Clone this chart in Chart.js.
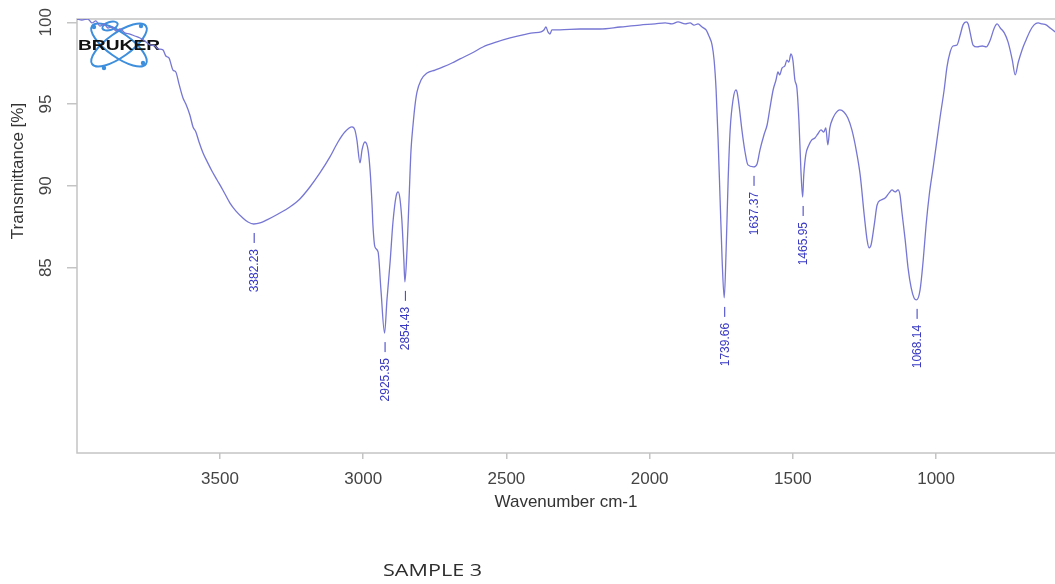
<!DOCTYPE html>
<html lang="en">
<head>
<meta charset="UTF-8">
<title>FTIR spectrum - SAMPLE 3</title>
<script src="https://cdn.jsdelivr.net/npm/chart.js@4.4.0/dist/chart.umd.min.js"></script>
<style>
  html, body { margin: 0; padding: 0; background: #fff; overflow: hidden; }
  .chartbox { position: relative; width: 1055px; height: 584px; }
  #sample { position: absolute; left: 383px; top: 558px; font: 17px "Open Sans", sans-serif; color: #2e2e2e;
            transform: scaleX(1.27); transform-origin: left top; white-space: nowrap; }
</style>
</head>
<body>
<div class="chartbox">
  <canvas id="irChart" width="1055" height="584"></canvas>
  <div id="sample">SAMPLE 3</div>
</div>
<script>
// wavenumber (cm-1), high to low
const wavenumbers = [
  3999, 3982, 3961, 3947, 3933, 3919, 3905, 3891, 3877, 3863,
  3849, 3832, 3814, 3797, 3779, 3762, 3744, 3727, 3716, 3699,
  3689, 3678, 3664, 3654, 3643, 3629, 3619, 3605, 3594, 3584,
  3573, 3559, 3542, 3528, 3510, 3490, 3465, 3444, 3420, 3402,
  3382.23, 3360, 3336, 3297, 3256, 3221, 3186, 3151, 3116, 3088,
  3064, 3039, 3029, 3022, 3011, 3004, 2994, 2983, 2976, 2969,
  2966, 2959, 2948, 2938, 2925.35, 2917, 2906, 2896, 2885, 2878,
  2872, 2865, 2858, 2854.43, 2847, 2840, 2833, 2826, 2819, 2812,
  2798, 2777, 2749, 2721, 2690, 2662, 2620, 2582, 2533, 2487,
  2446, 2407, 2379, 2369, 2362, 2355, 2348, 2341, 2313, 2243,
  2173, 2103, 2034, 1981, 1946, 1922, 1901, 1876, 1859, 1845,
  1831, 1817, 1803, 1793, 1782, 1775, 1768, 1761, 1754, 1747,
  1739.66, 1733, 1726, 1719, 1709, 1699, 1695, 1688, 1678, 1667,
  1657, 1637.37, 1625, 1615, 1601, 1590, 1580, 1569, 1559, 1552,
  1546, 1538, 1528, 1521, 1514, 1507, 1500, 1493, 1486, 1479,
  1472, 1465.95, 1462, 1455, 1444, 1434, 1423, 1413, 1402, 1392,
  1385, 1378, 1371, 1360, 1347, 1336, 1322, 1308, 1294, 1279,
  1265, 1251, 1241, 1234, 1227, 1216, 1206, 1192, 1178, 1164,
  1154, 1143, 1133, 1126, 1119, 1108, 1098, 1087, 1077, 1068.14,
  1056, 1045, 1035, 1024, 1010, 997, 986, 972, 962, 951,
  941, 927, 916, 906, 895, 888, 881, 871, 857, 839,
  825, 811, 797, 787, 776, 762, 749, 734, 724, 713,
  700, 686, 672, 658, 644, 630, 616, 602, 585
];
// transmittance in %
const transmittance = [
  100.2, 100.14, 100.2, 99.96, 100.08, 99.77, 99.9, 99.65, 99.71, 99.47,
  99.59, 99.35, 99.28, 99.16, 99.04, 98.86, 98.61, 98.55, 98.37, 98.31,
  97.94, 97.82, 97.08, 96.96, 96.23, 95.37, 95.0, 94.33, 93.6, 93.29,
  92.68, 92.01, 91.39, 90.91, 90.36, 89.75, 88.95, 88.46, 88.04, 87.79,
  87.67, 87.73, 87.92, 88.28, 88.71, 89.2, 89.93, 90.79, 91.77, 92.68,
  93.29, 93.6, 93.42, 92.81, 91.4, 92.2, 92.68, 92.2, 90.97, 88.83,
  87.61, 86.27, 85.96, 83.64, 81.0, 83.03, 85.35, 87.79, 89.38, 89.63,
  89.26, 87.92, 85.47, 84.13, 86.09, 89.14, 92.2, 93.72, 94.94, 95.74,
  96.47, 96.9, 97.08, 97.27, 97.51, 97.76, 98.12, 98.49, 98.8, 99.04,
  99.22, 99.35, 99.41, 99.53, 99.71, 99.41, 99.28, 99.53, 99.53, 99.59,
  99.59, 99.71, 99.83, 99.9, 99.96, 99.9, 100.02, 99.9, 99.96, 99.83,
  99.9, 99.71, 99.53, 99.16, 98.61, 97.69, 95.86, 92.81, 89.14, 85.47,
  83.15, 86.09, 90.36, 93.42, 95.25, 95.86, 95.74, 94.94, 93.42, 92.07,
  91.28, 91.16, 91.34, 92.19, 93.11, 93.72, 94.76, 95.86, 96.47, 96.96,
  96.78, 97.2, 97.33, 97.69, 97.57, 98.06, 97.69, 96.47, 95.98, 94.03,
  90.97, 89.32, 90.66, 91.89, 92.5, 92.81, 92.93, 93.17, 93.42, 93.29,
  93.54, 92.5, 93.54, 94.15, 94.52, 94.64, 94.52, 94.15, 93.42, 92.19,
  90.66, 88.22, 86.7, 86.21, 86.39, 87.61, 88.83, 89.14, 89.26, 89.57,
  89.75, 89.63, 89.75, 89.44, 88.34, 86.7, 84.99, 83.76, 83.15, 83.03,
  83.64, 85.47, 87.61, 89.44, 91.16, 92.81, 94.21, 95.86, 97.27, 98.18,
  98.55, 98.61, 99.22, 99.84, 100.02, 99.9, 99.35, 98.61, 98.49, 98.55,
  98.49, 98.92, 99.65, 99.9, 99.65, 99.35, 98.8, 97.69, 96.78, 97.57,
  98.31, 98.92, 99.47, 99.84, 99.96, 99.9, 99.84, 99.65, 99.41
];
// picked peaks (labelled under the curve)
const peakWn = [3382.23, 2925.35, 2854.43, 1739.66, 1637.37, 1465.95, 1068.14];
const xTicks = [3500, 3000, 2500, 2000, 1500, 1000];
const yTicks = [85, 90, 95, 100];

const axisFont = { family: '"Liberation Sans", Arial, sans-serif', size: 17 };
const axisColor = '#c4c4c4';
const textColor = '#444';
const peakColor = '#3838c4';

const points = wavenumbers.map((w, i) => ({ x: w, y: transmittance[i] }));

function drawLogo(ctx) {
  ctx.save();
  ctx.strokeStyle = '#3d8edc';
  ctx.fillStyle = '#3d8edc';
  ctx.lineWidth = 2;
  [0.62, -0.62].forEach(a => {
    ctx.beginPath();
    ctx.ellipse(119, 45, 33, 12, a, 0, Math.PI * 2);
    ctx.stroke();
  });
  ctx.beginPath();
  ctx.ellipse(110, 26, 8, 4, -0.3, 0, Math.PI * 2);
  ctx.stroke();
  [[94, 27], [143, 63], [104, 68], [141, 26]].forEach(p => {
    ctx.beginPath();
    ctx.arc(p[0], p[1], 2.2, 0, Math.PI * 2);
    ctx.fill();
  });
  ctx.fillStyle = '#111';
  ctx.font = 'bold 14px "Liberation Sans", Arial, sans-serif';
  ctx.textAlign = 'center';
  ctx.textBaseline = 'middle';
  ctx.translate(119, 46);
  ctx.scale(1.37, 1);
  ctx.fillText('BRUKER', 0, 0);
  ctx.restore();
}

const decor = {
  id: 'decor',
  beforeDatasetsDraw(chart) {
    const { ctx, chartArea: a } = chart;
    ctx.save();
    ctx.strokeStyle = axisColor;
    ctx.lineWidth = 1.5;
    ctx.strokeRect(a.left, a.top, a.right - a.left + 2, a.bottom - a.top);
    ctx.restore();
    drawLogo(ctx);
  },
  afterDraw(chart) {
    const { ctx, scales: { x, y } } = chart;
    ctx.save();
    // y tick labels, rotated like the axis title
    ctx.fillStyle = textColor;
    ctx.font = '17px "Liberation Sans", Arial, sans-serif';
    ctx.textAlign = 'center';
    ctx.textBaseline = 'middle';
    yTicks.forEach(v => {
      ctx.save();
      ctx.translate(46, y.getPixelForValue(v));
      ctx.rotate(-Math.PI / 2);
      ctx.fillText(String(v), 0, 0);
      ctx.restore();
    });
    ctx.save();
    ctx.fillStyle = '#333';
    ctx.translate(18, 171);
    ctx.rotate(-Math.PI / 2);
    ctx.fillText('Transmittance [%]', 0, 0);
    ctx.restore();

    // peak markers
    ctx.strokeStyle = peakColor;
    ctx.fillStyle = peakColor;
    ctx.lineWidth = 1;
    ctx.font = '12px "Liberation Sans", Arial, sans-serif';
    peakWn.forEach(w => {
      const i = wavenumbers.indexOf(w);
      const px = x.getPixelForValue(w);
      const py = y.getPixelForValue(transmittance[i]);
      ctx.beginPath();
      ctx.moveTo(px + 0.5, py + 9);
      ctx.lineTo(px + 0.5, py + 19);
      ctx.stroke();
      ctx.save();
      ctx.translate(px + 1, py + 25);
      ctx.rotate(-Math.PI / 2);
      ctx.textAlign = 'right';
      ctx.textBaseline = 'middle';
      ctx.fillText(w.toFixed(2), 0, 0);
      ctx.restore();
    });
    ctx.restore();
  }
};

new Chart(document.getElementById('irChart'), {
  type: 'line',
  data: {
    datasets: [{
      data: points,
      borderColor: '#7676d4',
      borderWidth: 1.3,
      pointRadius: 0,
      fill: false,
      cubicInterpolationMode: 'monotone'
    }]
  },
  options: {
    responsive: false,
    animation: false,
    events: [],
    layout: { padding: { top: 19, right: 0, left: 0, bottom: 0 } },
    plugins: { legend: { display: false }, tooltip: { enabled: false } },
    scales: {
      x: {
        type: 'linear',
        reverse: true,
        min: 585,
        max: 3999,
        afterBuildTicks: s => { s.ticks = xTicks.map(v => ({ value: v })); },
        afterFit: s => { s.height = 131; },
        grid: { drawOnChartArea: false, drawTicks: true, tickLength: 6, color: axisColor, lineWidth: 1.5 },
        border: { display: false },
        ticks: { font: axisFont, color: textColor, padding: 10, maxRotation: 0, callback: v => String(v) },
        title: { display: true, text: 'Wavenumber cm-1', font: axisFont, color: '#333', padding: { top: 0, bottom: 71 } }
      },
      y: {
        min: 73.67,
        max: 100.2,
        afterBuildTicks: s => { s.ticks = yTicks.map(v => ({ value: v })); },
        afterFit: s => { s.width = 77; },
        grid: { drawOnChartArea: false, drawTicks: true, tickLength: 10, color: axisColor, lineWidth: 1.5 },
        border: { display: false },
        ticks: { color: 'rgba(0,0,0,0)', font: axisFont }
      }
    }
  },
  plugins: [decor]
});
</script>
</body>
</html>
